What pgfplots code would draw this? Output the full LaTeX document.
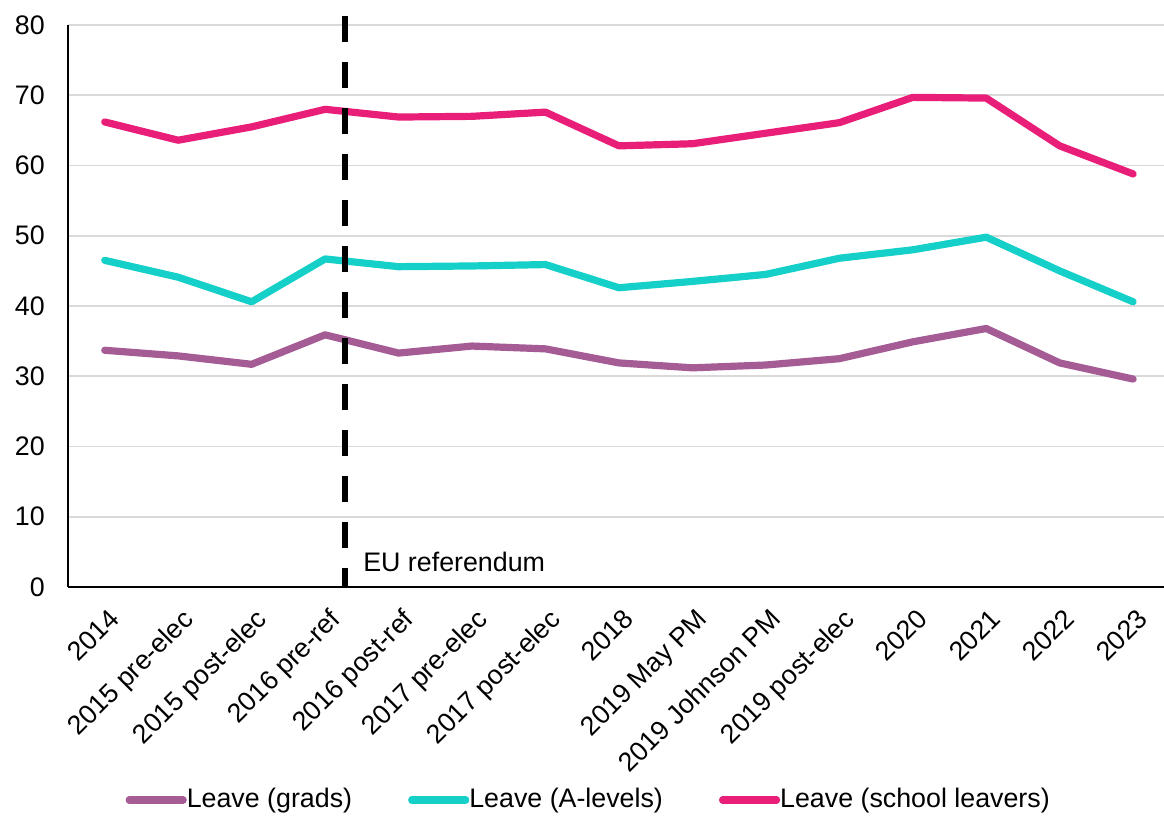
\documentclass[border=0pt]{standalone}
\usepackage{fontspec}
\setmainfont{Liberation Sans}
\usepackage{pgfplots}
\pgfplotsset{compat=1.18}

\definecolor{grads}{RGB}{165,91,148}
\definecolor{alevels}{RGB}{20,208,200}
\definecolor{school}{RGB}{233,30,120}
\definecolor{gridgrey}{RGB}{217,217,217}

\newcommand{\chartfont}{\fontsize{13.4}{16}\selectfont}

\begin{document}
\chartfont
\begin{tikzpicture}
\useasboundingbox (-34pt,-114.5pt) rectangle (548pt,293.5pt);
\begin{axis}[
  at={(0,0)}, anchor=south west,
  scale only axis,
  width=548pt, height=281pt,
  xmin=-0.5, xmax=14.42,
  ymin=0, ymax=80,
  ytick={0,10,...,80},
  xtick={0,...,14},
  xticklabels={2014,2015 pre-elec,2015 post-elec,2016 pre-ref,2016 post-ref,2017 pre-elec,2017 post-elec,2018,2019 May PM,2019 Johnson PM,2019 post-elec,2020,2021,2022,2023},
  xticklabel style={rotate=45, anchor=north east, inner sep=1pt, xshift=-5pt, yshift=-7pt},
  yticklabel style={xshift=-7pt},
  major tick length=0pt,
  axis x line*=bottom, axis y line*=left,
  axis line style={line width=1pt, black, -},
  ymajorgrids, grid style={gridgrey, line width=0.8pt},
  /pgf/number format/assume math mode=true,
  tick label style={font=\chartfont},
  clip=false,
  legend columns=3,
  legend style={at={(axis description cs:0.476,-0.379)}, anchor=center,
    draw=none, fill=none, font=\chartfont,
    /tikz/every even column/.append style={column sep=26pt},
    /tikz/every odd column/.append style={column sep=-2pt},
    inner sep=0pt},
  legend image code/.code={\draw[#1, line width=3.6pt, line cap=round] (0pt,0pt) -- (27pt,0pt);},
  every axis plot/.append style={line width=3.6pt, line join=round, line cap=round},
]
\addplot[grads] coordinates {
 (0,33.7) (1,32.9) (2,31.7) (3,35.9) (4,33.3) (5,34.3) (6,33.9) (7,31.9)
 (8,31.2) (9,31.6) (10,32.5) (11,34.9) (12,36.8) (13,31.9) (14,29.6)};
\addlegendentry{Leave (grads)}
\addplot[alevels] coordinates {
 (0,46.5) (1,44.1) (2,40.6) (3,46.7) (4,45.6) (5,45.7) (6,45.9) (7,42.6)
 (8,43.5) (9,44.5) (10,46.8) (11,48.0) (12,49.8) (13,45.0) (14,40.6)};
\addlegendentry{Leave (A-levels)}
\addplot[school] coordinates {
 (0,66.2) (1,63.6) (2,65.5) (3,68.0) (4,66.9) (5,67.0) (6,67.6) (7,62.8)
 (8,63.1) (9,64.6) (10,66.1) (11,69.7) (12,69.6) (13,62.8) (14,58.8)};
\addlegendentry{Leave (school leavers)}
\draw[black, line width=2.6pt, dash pattern=on 13pt off 10pt]
  (axis cs:3.27,81.3) -- (axis cs:3.27,0);
\node[anchor=base west, inner sep=0pt] at (axis cs:3.27,2.2) {\hspace{9pt}EU referendum};
\end{axis}
\end{tikzpicture}
\end{document}
